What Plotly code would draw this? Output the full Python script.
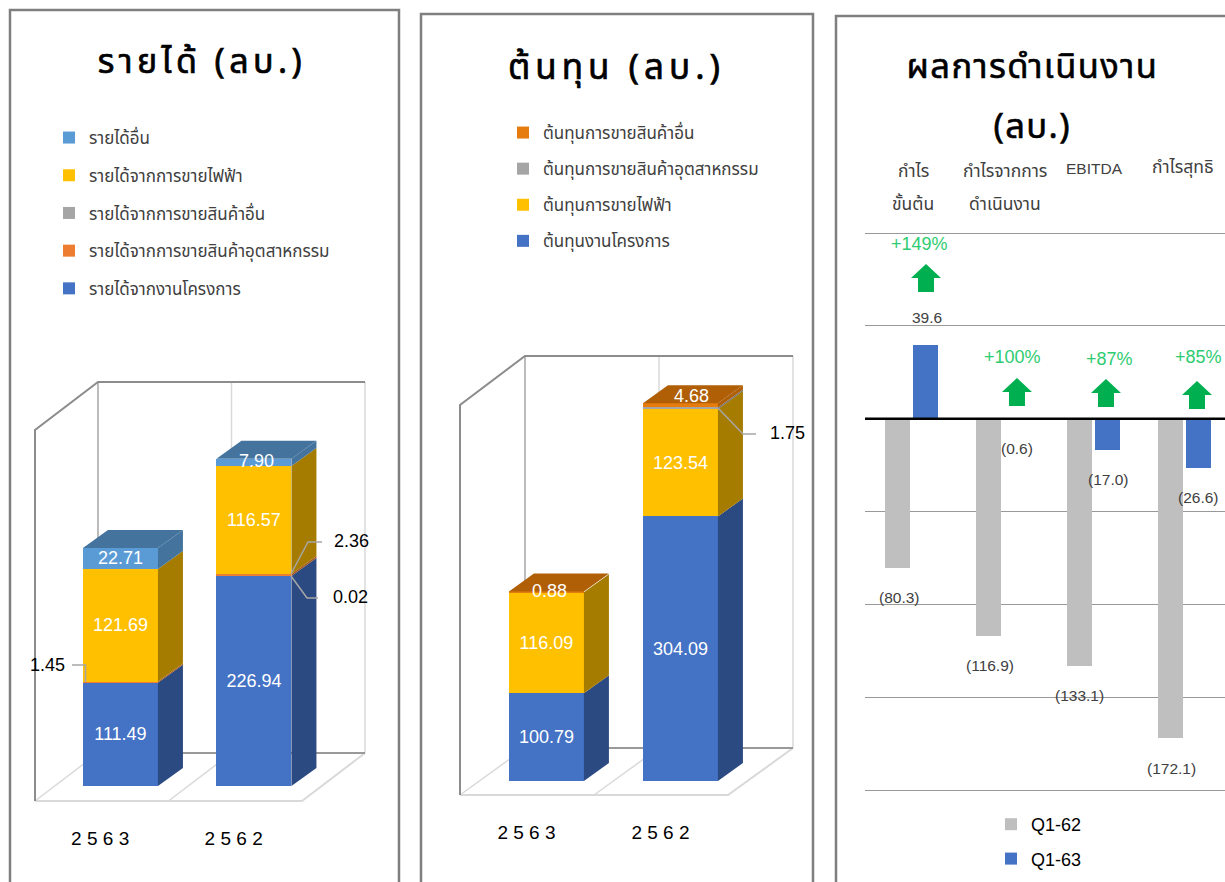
import plotly.graph_objects as go

W, H = 1225, 882
LATIN = "Liberation Sans, Noto Sans, DejaVu Sans, sans-serif"
THAI = "Noto Sans, Noto Sans Thai, DejaVu Sans, sans-serif"

YEARS = ["2 5 6 3", "2 5 6 2"]

REV_NAMES = ["รายได้จากงานโครงการ", "รายได้จากการขายสินค้าอุตสาหกรรม", "รายได้จากการขายสินค้าอื่น",
             "รายได้จากการขายไฟฟ้า", "รายได้อื่น"]
REV_PROJECT = [111.49, 226.94]
REV_INDUSTRIAL = [1.45, 2.36]
REV_OTHER_GOODS = [0.0, 0.02]
REV_ELECTRIC = [121.69, 116.57]
REV_OTHER = [22.71, 7.90]
REV_TEXT = [["111.49", "226.94"], ["", ""], ["", ""], ["121.69", "116.57"], ["22.71", ""]]

COST_NAMES = ["ต้นทุนงานโครงการ", "ต้นทุนการขายไฟฟ้า", "ต้นทุนการขายสินค้าอุตสาหกรรม", "ต้นทุนการขายสินค้าอื่น"]
COST_PROJECT = [100.79, 304.09]
COST_ELECTRIC = [116.09, 123.54]
COST_INDUSTRIAL = [0.0, 1.75]
COST_OTHER = [0.88, 4.68]
COST_TEXT = [["100.79", "304.09"], ["116.09", "123.54"], ["", ""], ["", ""]]

OP_LINE1 = ["กำไร", "กำไรจากการ", "EBITDA", "กำไรสุทธิ"]
OP_LINE2 = ["ขั้นต้น", "ดำเนินงาน", "", ""]
Q1_62 = [-80.3, -116.9, -133.1, -172.1]
Q1_63 = [39.6, -0.6, -17.0, -26.6]
OP_62_TEXT = ["(80.3)", "(116.9)", "(133.1)", "(172.1)"]
OP_63_TEXT = ["39.6", "(0.6)", "(17.0)", "(26.6)"]
OP_CHANGE = ["+149%", "+100%", "+87%", "+85%"]

REV_COLORS = ["#4472C4", "#ED7D31", "#A5A5A5", "#FFC000", "#5B9BD5"]
REV_DARK = ["#2C4A82", "#A5561F", "#6E6E6E", "#A67C00", "#44749E"]
COST_COLORS = ["#4472C4", "#FFC000", "#A5A5A5", "#E67C0D"]
COST_DARK = ["#2C4A82", "#A67C00", "#6E6E6E", "#B05F06"]


def px(x):
    return x / W


def py(y):
    return 1 - y / H


fig = go.Figure()
shapes = []
annots = []


def line(points, color, width=1.5, layer="below"):
    path = "M" + " L".join(f"{px(x):.5f},{py(y):.5f}" for x, y in points)
    shapes.append(dict(type="path", xref="paper", yref="paper", path=path, fillcolor="rgba(0,0,0,0)",
                       line=dict(color=color, width=width), layer=layer))


def text(x, y, s, size, color="#000000", family=LATIN):
    annots.append(dict(xref="paper", yref="paper", x=px(x), y=py(y), text=s, showarrow=False,
                       xanchor="center", yanchor="middle", font=dict(size=size, color=color, family=family)))


def stacked_panel(n, names, series, texts, colors, darks, front, back_dx, back_dy, floor_y, top_y, wall_front_top,
                  scale, base_lift, bar_off, legend_name, tick_shift):
    x0, x1 = front
    xa, ya = f"x{n}", f"y{n}"
    unit = (x1 - x0) / 2
    fig.update_layout(**{
        f"xaxis{n}": dict(domain=[px(x0), px(x1 + back_dx)], range=[-0.5, 1.5 + back_dx / unit], anchor=ya,
                          tickmode="array", tickvals=[0 - tick_shift, 1 - tick_shift],
                          ticktext=YEARS, showgrid=False, zeroline=False, showline=False, ticks="",
                          ticklabelstandoff=24, tickfont=dict(size=19, color="#000000", family=LATIN), fixedrange=True),
        f"yaxis{n}": dict(domain=[py(floor_y), py(top_y)], range=[-base_lift / scale, (floor_y - top_y - base_lift) / scale],
                          anchor=xa, showgrid=False, zeroline=False, showline=False, showticklabels=False, ticks="",
                          fixedrange=True),
    })
    # walls and floor
    L, R, M = x0, x1, (x0 + x1) / 2
    line([(L + back_dx, top_y), (L + back_dx, floor_y - back_dy)], "#A6A6A6")
    line([(M + back_dx, top_y), (M + back_dx, floor_y - back_dy)], "#D9D9D9")
    line([(R + back_dx, top_y), (R + back_dx, floor_y - back_dy)], "#D9D9D9")
    line([(L, floor_y), (R, floor_y), (R + back_dx, floor_y - back_dy)], "#D9D9D9", 2)
    line([(M, floor_y), (M + back_dx, floor_y - back_dy)], "#D9D9D9")
    line([(L, floor_y), (L + back_dx, floor_y - back_dy)], "#D9D9D9")
    line([(L + back_dx, floor_y - back_dy), (R + back_dx, floor_y - back_dy)], "#999999", 2)
    line([(L, floor_y), (L, wall_front_top), (L + back_dx, top_y), (R + back_dx, top_y)], "#8C8C8C", 2)

    bar_w = 75 / unit
    depth_x = 25 / unit
    depth_y = 18 / scale
    pos = [0 + bar_off, 1 + bar_off]
    bottoms = [0.0, 0.0]
    for i, vals in enumerate(series):
        fig.add_trace(go.Bar(x=pos, y=vals, width=bar_w, name=names[i], xaxis=xa, yaxis=ya, legend=legend_name,
                             legendgroup=f"{n}-{i}", legendrank=100 - i,
                             marker=dict(color=colors[i], line=dict(width=0)),
                             text=texts[i], textposition="inside", insidetextanchor="middle", textangle=0,
                             constraintext="none", textfont=dict(size=18, color="#FFFFFF", family=LATIN),
                             cliponaxis=False, hoverinfo="skip"))
        xs, ys = [], []
        for j, v in enumerate(vals):
            if v <= 0:
                continue
            xr = pos[j] + bar_w / 2
            b, t = bottoms[j], bottoms[j] + v
            xs += [xr, xr + depth_x, xr + depth_x, xr, xr, None]
            ys += [b, b + depth_y, t + depth_y, t, b, None]
        fig.add_trace(go.Scatter(x=xs, y=ys, mode="lines", fill="toself", fillcolor=darks[i], line=dict(width=0),
                                 xaxis=xa, yaxis=ya, showlegend=False, hoverinfo="skip"))
        bottoms = [bottoms[j] + vals[j] for j in range(2)]
    # top faces use the colour of the topmost series
    xs, ys = [], []
    for j in range(2):
        xl = pos[j] - bar_w / 2
        xr = pos[j] + bar_w / 2
        t = bottoms[j]
        xs += [xl, xr, xr + depth_x, xl + depth_x, xl, None]
        ys += [t, t, t + depth_y, t + depth_y, t, None]
    fig.add_trace(go.Scatter(x=xs, y=ys, mode="lines", fill="toself", fillcolor=darks[-1], line=dict(width=0),
                             xaxis=xa, yaxis=ya, showlegend=False, hoverinfo="skip"))


# panel frames
for x0, x1, y0 in [(10, 399, 10), (421, 813, 14), (836, 1300, 16)]:
    line([(x0, 900), (x0, y0), (x1, y0), (x1, 900)], "#7F7F7F", 2.5)

stacked_panel(1, REV_NAMES, [REV_PROJECT, REV_INDUSTRIAL, REV_OTHER_GOODS, REV_ELECTRIC, REV_OTHER], REV_TEXT,
              REV_COLORS, REV_DARK, (35, 302), 63, 48, 801, 382, 430, 0.925, 15, 0.14, "legend", 0.012)
stacked_panel(2, COST_NAMES, [COST_PROJECT, COST_ELECTRIC, COST_INDUSTRIAL, COST_OTHER], COST_TEXT,
              COST_COLORS, COST_DARK, (460, 728), 65, 47, 795, 356, 405, 0.87, 14, 0.145, "legend2", 0.004)

# operating results panel
fig.add_trace(go.Bar(x=[i - 14 / 91 for i in range(4)], y=Q1_62, width=25 / 91, name="Q1-62", xaxis="x3", yaxis="y3",
                     legend="legend3", legendgroup="q62", marker=dict(color="#BFBFBF", line=dict(width=0)),
                     hoverinfo="skip"))
fig.add_trace(go.Bar(x=[i + 14 / 91 for i in range(4)], y=Q1_63, width=25 / 91, name="Q1-63", xaxis="x3", yaxis="y3",
                     legend="legend3", legendgroup="q63", marker=dict(color="#4472C4", line=dict(width=0)),
                     hoverinfo="skip"))

fig.update_layout(
    xaxis3=dict(domain=[px(865), 1], range=[-46 / 91, 314 / 91], anchor="y3", showticklabels=False, showgrid=False,
                zeroline=False, showline=False, ticks="", fixedrange=True),
    yaxis3=dict(domain=[py(790 + 1.857), py(233 - 1.857)], range=[-201, 101], dtick=50, anchor="x3",
                showticklabels=False, showgrid=True, gridcolor="#999999", gridwidth=1, zeroline=False,
                showline=False, ticks="", fixedrange=True),
)
shapes.append(dict(type="line", xref="paper", yref="y3", x0=px(865), x1=1, y0=0, y1=0,
                   line=dict(color="#000000", width=2.5), layer="above"))

# titles
text(202, 60, "รายได้ (ลบ.)", 34, family=THAI)
text(616, 65, "ต้นทุน (ลบ.)", 35, family=THAI)
text(1032, 64, "ผลการดำเนินงาน", 34.5, family=THAI)
text(1032, 125, "(ลบ.)", 34.5, family=THAI)

# category heads of the operating panel
for cx, cy, a, b in zip([913, 1005, 1094, 1182], [170, 170, 168, 166], OP_LINE1, OP_LINE2):
    if a == "EBITDA":
        text(cx, cy, a, 15.5, "#404040", LATIN)
    else:
        text(cx, cy, a, 17.5, "#404040", THAI)
    if b:
        text(cx, 203, b, 17.5, "#404040", THAI)

for (cx, cy), s in zip([(899, 597), (990, 665), (1079, 695), (1171, 768)], OP_62_TEXT):
    text(cx, cy, s, 15.5, "#404040")
for (cx, cy), s in zip([(927, 317), (1017, 448), (1108, 479), (1198, 497)], OP_63_TEXT):
    text(cx, cy, s, 15.5, "#404040")
for (cx, cy), s in zip([(919, 244), (1012, 357), (1109, 359), (1198, 357)], OP_CHANGE):
    text(cx, cy, s, 18, "#2ECC71")

# green arrows
for cx, top in [(926, 264), (1017, 378), (1106, 379), (1197, 381)]:
    pts = [(cx, top), (cx + 15, top + 14), (cx + 8, top + 14), (cx + 8, top + 28), (cx - 8, top + 28),
           (cx - 8, top + 14), (cx - 15, top + 14)]
    shapes.append(dict(type="path", xref="paper", yref="paper", layer="above",
                       path="M" + " L".join(f"{px(a):.5f},{py(b):.5f}" for a, b in pts) + " Z",
                       fillcolor="#00B050", line=dict(width=0)))

# small stacked values pulled out of the bars
text(47, 665, "1.45", 18)
text(351, 541, "2.36", 18)
text(350, 597, "0.02", 18)
text(787, 433, "1.75", 18)
text(256, 461, "7.90", 18, "#FFFFFF")
text(549, 591, "0.88", 18, "#FFFFFF")
text(691, 396, "4.68", 18, "#FFFFFF")
line([(72, 665), (85.5, 665), (85.5, 682)], "#A6A6A6", 1.5, "above")
line([(291, 574), (308, 542), (322, 542)], "#A6A6A6", 1.5, "above")
line([(291, 576), (307, 598), (318, 598)], "#A6A6A6", 1.5, "above")
line([(718, 408), (743, 434), (756, 434)], "#A6A6A6", 1.5, "above")


def legend(x, y, gap, size, family, color="#404040"):
    return dict(x=px(x), y=py(y), xanchor="left", yanchor="top", orientation="v", traceorder="grouped",
                tracegroupgap=gap, bgcolor="rgba(0,0,0,0)", itemclick=False, itemdoubleclick=False,
                font=dict(size=size, color=color, family=family))


fig.update_layout(
    width=W, height=H, autosize=False, margin=dict(l=0, r=0, t=0, b=0, pad=0),
    paper_bgcolor="#FFFFFF", plot_bgcolor="rgba(0,0,0,0)", barmode="stack", showlegend=True,
    shapes=shapes, annotations=annots,
    legend=legend(49, 120, 12.6, 17, THAI),
    legend2=legend(503, 115, 11, 17, THAI),
    legend3=legend(991, 806, 8, 18, LATIN, "#000000"),
)

CSS = (
    'text.annotation-text[style*="font-size: 34px"]{letter-spacing:4.4px;stroke:#000;stroke-width:.7px}'
    'text.annotation-text[style*="font-size: 35px"]{letter-spacing:5px;stroke:#000;stroke-width:.7px}'
    'text.annotation-text[style*="font-size: 34.5px"]{letter-spacing:1.4px;stroke:#000;stroke-width:.6px}'
)
fig.write_html("out.html", include_plotlyjs=True, config=dict(displayModeBar=False),
               post_script="document.body.style.margin='0';document.documentElement.style.overflow='hidden';"
                           "var s=document.createElement('style');s.textContent=" + repr(CSS) + ";document.head.appendChild(s);")
